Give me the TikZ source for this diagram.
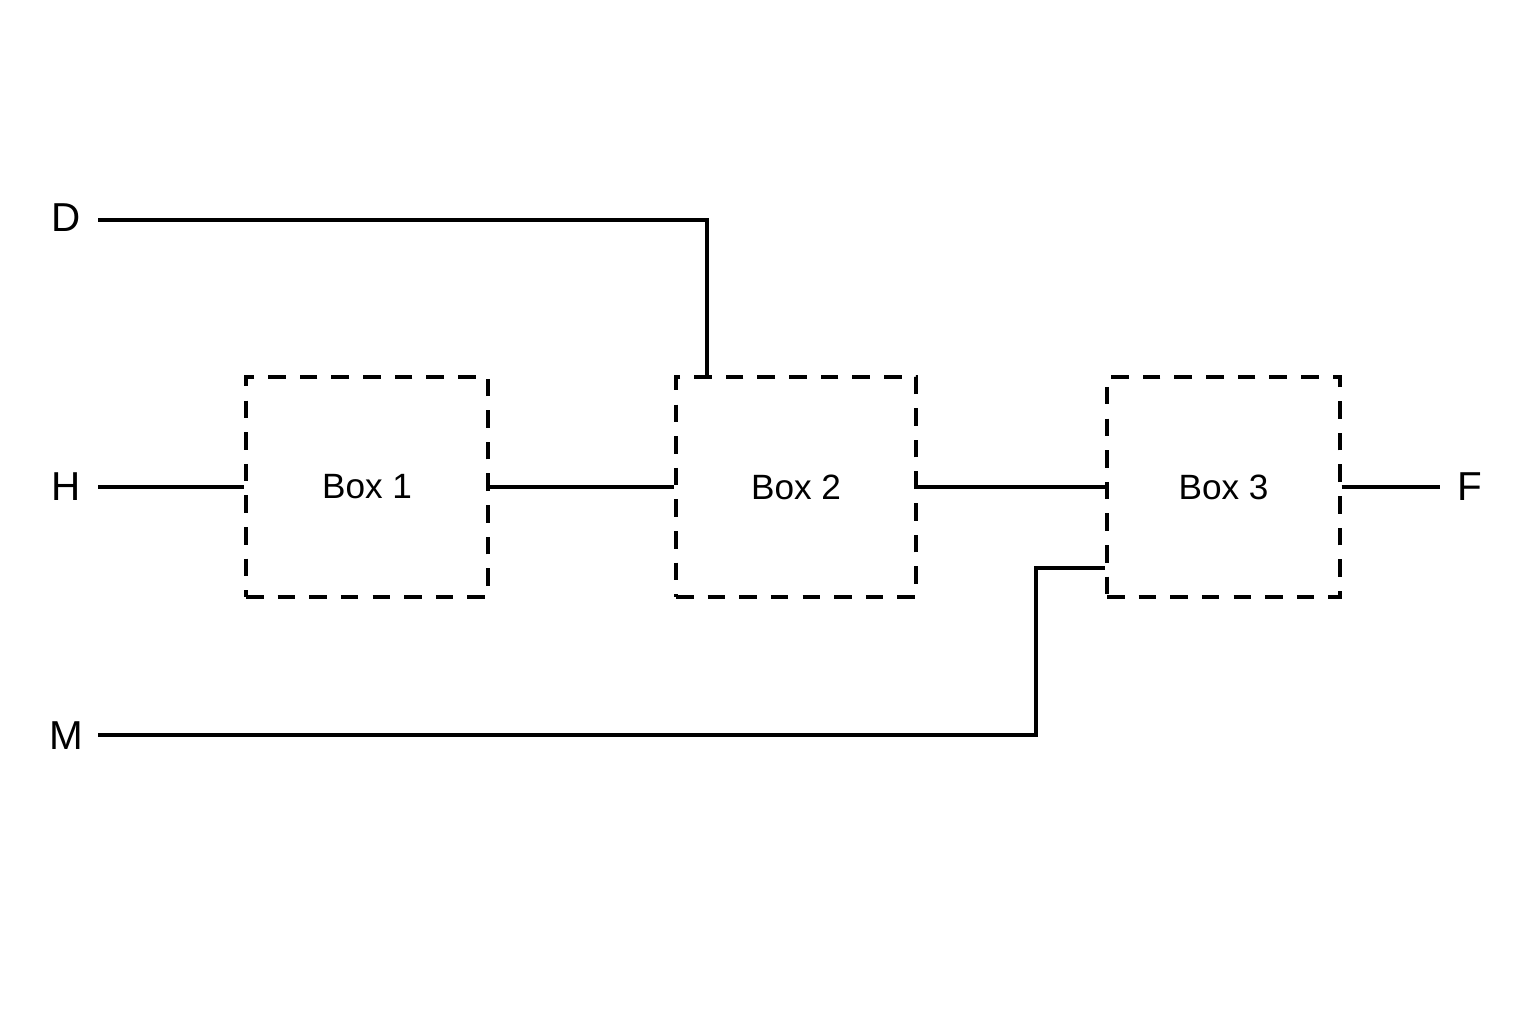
\documentclass[tikz,border=0pt]{standalone}
\usepackage{fontspec}
\setmainfont{Liberation Sans}
\usetikzlibrary{positioning}
\tikzset{
  block/.style={draw, dashed, line width=0.9pt, dash pattern=on 5pt off 4pt, minimum height=2.2cm, font=\fontsize{10}{12}\selectfont},
  wire/.style={line width=0.9pt},
  port/.style={font=\fontsize{11.5}{13}\selectfont, inner sep=0pt}
}
\begin{document}
\begin{tikzpicture}
\useasboundingbox (0,0) rectangle (15.36,10.24);
% boxes
\node[block, minimum width=2.42cm] (box1) at (3.67,5.37) {Box 1};
\node[block, minimum width=2.40cm] (box2) at (7.96,5.37) {Box 2};
\node[block, minimum width=2.33cm] (box3) at (12.235,5.37) {Box 3};
% port labels
\node[port] (d) at (0.66,8.06) {D};
\node[port] (h) at (0.66,5.37) {H};
\node[port] (m) at (0.66,2.88) {M};
\node[port] (f) at (14.70,5.37) {F};
\coordinate (dstart) at (0.98,8.04);
\coordinate (hstart) at (0.98,5.37);
\coordinate (mstart) at (0.98,2.89);
\coordinate (fend) at (14.40,5.37);
\coordinate (mtop) at (10.36,4.56);
% wires
\draw[wire] (hstart) -- (box1.west);
\draw[wire] (box1.east) -- (box2.west);
\draw[wire] (box2.east) -- (box3.west);
\draw[wire] (box3.east) -- (fend);
\draw[wire] (dstart) -| ([xshift=-0.89cm]box2.north);
\draw[wire] (mstart) -| (mtop) -- (mtop -| box3.west);
\end{tikzpicture}
\end{document}
